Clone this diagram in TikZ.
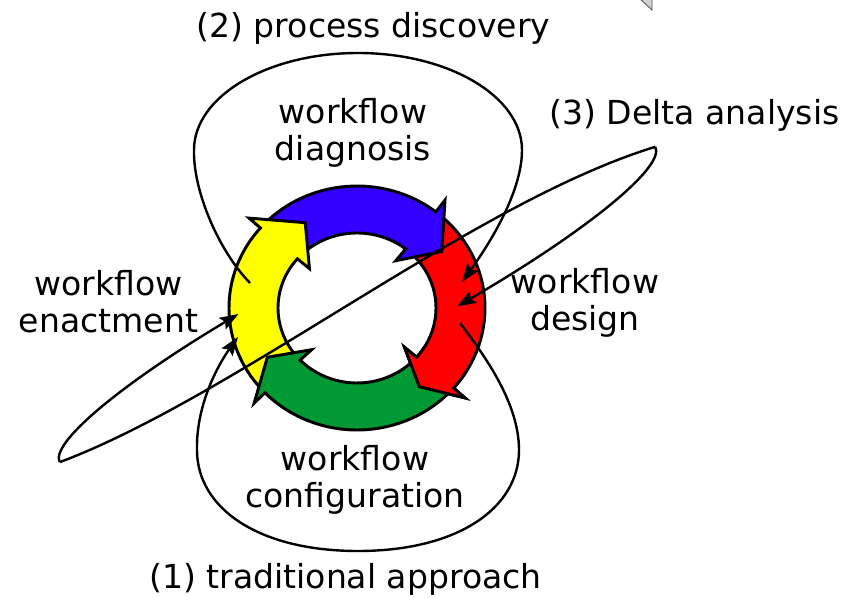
\documentclass[tikz,border=0pt]{standalone}
\usepackage{fontspec}
\setmainfont{DejaVu Sans}
\usetikzlibrary{calc,arrows.meta}
\definecolor{ringblue}{RGB}{51,0,255}
\definecolor{ringred}{RGB}{255,0,0}
\definecolor{ringgreen}{RGB}{0,153,51}
\definecolor{ringyellow}{RGB}{255,255,0}

% one curved segment of the ring: colour, start angle, head angle, tip offset
\newcommand\ringarrow[4]{%
  \filldraw[band, fill=#1]
    ($(C)+(#2:128 and 122)$)
      arc[start angle=#2, end angle=#3, x radius=128, y radius=122]
    -- ($(C)+(#3:143 and 137)$)
    -- ($(C)+(#3+#4:103.5 and 98.5)$)
    -- ($(C)+(#3:63 and 60)$)
    -- ($(C)+(#3:79 and 75)$)
      arc[start angle=#3, end angle=#2, x radius=79, y radius=75]
    -- cycle;}

\begin{document}
\begin{tikzpicture}[x=0.75pt,y=-0.75pt,
  txt/.style={font=\fontsize{24.8}{27.75}\selectfont, align=center, inner sep=0pt, anchor=base},
  flow/.style={line width=1.8pt},
  tipped/.style={flow, -{Stealth[length=14pt,width=10pt,inset=2.5pt]}},
  band/.style={draw=black, line width=2.2pt}]
\useasboundingbox (0,0) rectangle (861,598);

% corner of a shape cut off by the page edge
\filldraw[fill=gray!35, draw=black!70, line width=0.6pt]
  (639,-2) -- (652,10) -- (652,-2) -- cycle;

\coordinate (C) at (357,308);

% the ring of four arrows; each head lies over the start of the next one
\ringarrow{ringred}{310}{401}{12}
\ringarrow{ringblue}{223}{308}{17}
\ringarrow{ringyellow}{138}{221}{19}
\ringarrow{ringgreen}{43}{136}{14}
\begin{scope}
  \clip (C) -- ($(C)+(30:230)$) -- ($(C)+(46:230)$) -- ($(C)+(64:230)$) -- cycle;
  \ringarrow{ringred}{310}{401}{12}
\end{scope}

% (2) upper loop: enactment -> diagnosis -> design
\coordinate (enactTop) at (250,283);
\coordinate (designTop) at (462,282);
\draw[tipped] (enactTop) .. controls (218,250) and (193,190) .. (194,150)
  arc[start angle=180, end angle=360, x radius=164, y radius=97]
  .. controls (522,195) and (485,250) .. (designTop);

% (1) lower loop: design -> configuration -> enactment
\coordinate (designBot) at (460,323);
\coordinate (enactBot) at (238,337);
\draw[tipped] (designBot) .. controls (480,350) and (519,400) .. (519,450)
  .. controls (519,508) and (458,551) .. (358,551)
  .. controls (258,551) and (197,508) .. (197,450)
  .. controls (196,405) and (218,365) .. (enactBot);

% (3) delta analysis: long thin loop across the ring
\begin{scope}[shift={(357.5,304.5)}, rotate=27.9]
  \coordinate (tipA) at (180:337 and 50);
  \coordinate (tipB) at (0:337 and 50);
  \draw[tipped] (tipA) arc[start angle=180, end angle=251, x radius=337, y radius=50];
  \draw[tipped] (tipB) arc[start angle=0, end angle=75, x radius=337, y radius=50];
  \draw[flow] (tipA) .. controls (-150,24) and (150,-36) .. (tipB);
\end{scope}

% labels (anchor sits on the baseline of the last line)
\node[txt] (discovery) at (373.5,38) {(2) process discovery};
\node[txt] (traditional) at (345.5,589) {(1) traditional approach};
\node[txt] (delta) at (694.5,125) {(3) Delta analysis};
\node[txt] (diagnosis) at (353,161) {workflow\\diagnosis};
\node[txt] (enactment) at (108.5,333) {workflow\\enactment};
\node[txt] (design) at (585,331) {workflow\\design};
\node[txt] (configuration) at (355,508) {workflow\\configuration};
\end{tikzpicture}
\end{document}
